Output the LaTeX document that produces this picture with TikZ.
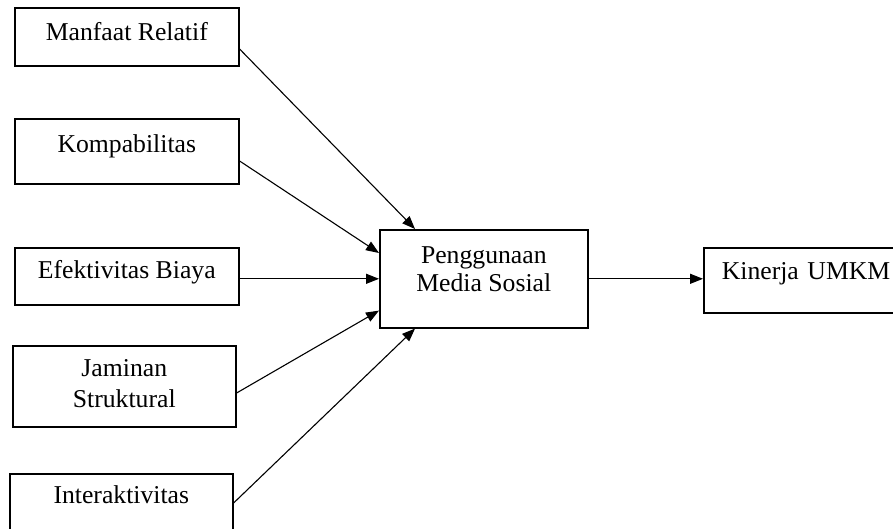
\documentclass[tikz,border=0pt]{standalone}
\usepackage{fontspec}
\setmainfont{Liberation Serif}
\usetikzlibrary{arrows.meta}
\begin{document}
\begin{tikzpicture}[x=1pt,y=-1pt,
  box/.style={draw, line width=1.6pt, anchor=north west, inner xsep=0pt, inner ysep=0pt,
    align=center, font=\fontsize{25.7}{28}\selectfont, text height=20pt},
  conn/.style={line width=1.1pt, -{Triangle[length=13pt,width=10pt]}}]
\useasboundingbox (0,0) rectangle (893,529);
\node[box, minimum width=224pt, minimum height=58pt, text depth=12pt] (mr) at (14,7) {Manfaat Relatif};
\node[box, minimum width=224pt, minimum height=65pt, text depth=17pt] (kp) at (14,118) {Kompabilitas};
\node[box, minimum width=224pt, minimum height=57pt, text depth=15pt] (ef) at (14,247) {Efektivitas Biaya};
\node[box, minimum width=223pt, minimum height=81pt, text height=50pt, text depth=7pt] (jm) at (12,345) {Jaminan\\[3pt]Struktural};
\node[box, minimum width=223pt, minimum height=80pt, text depth=40pt] (ia) at (9,473) {Interaktivitas};
\node[box, minimum width=208pt, minimum height=98pt, text height=50pt, text depth=24pt] (pm) at (379,229) {Penggunaan\\Media Sosial};
\node[box, minimum width=216pt, minimum height=65pt, text height=20pt, text depth=21pt, text width=180pt, align=left] (km) at (703,247) {Kinerja UMKM};
\draw[conn] ([yshift=-42pt]mr.north east) -- ([xshift=36pt]pm.north west);
\draw[conn] ([yshift=-43pt]kp.north east) -- ([yshift=-24pt]pm.north west);
\draw[conn] (pm.west -| ef.east) -- (pm.west);
\draw[conn] ([yshift=-48pt]jm.north east) -- ([yshift=18pt]pm.south west);
\draw[conn] ([yshift=-30pt]ia.north east) -- ([xshift=36pt]pm.south west);
\draw[conn] (pm.east) -- (pm.east -| km.west);
\end{tikzpicture}
\end{document}
